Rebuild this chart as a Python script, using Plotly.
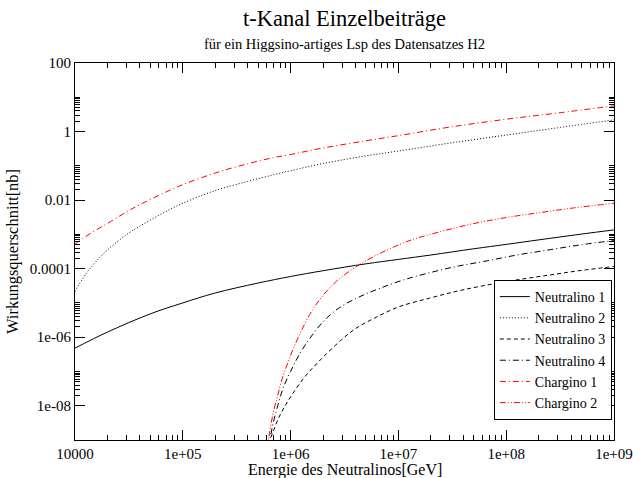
import plotly.graph_objects as go

# ---- data ----
e_n1 = [1e4, 2e4, 5e4, 1e5, 2e5, 5e5, 1e6, 2e6, 5e6, 1e7, 2e7, 5e7, 1e8, 2e8, 5e8, 1e9]
s_n1 = [4.8e-7, 1.41e-6, 4.8e-6, 1.0e-5, 1.95e-5, 3.8e-5, 5.9e-5, 8.7e-5, 1.38e-4,
        1.86e-4, 2.5e-4, 3.8e-4, 5.1e-4, 6.9e-4, 1.02e-3, 1.35e-3]

e_light = [1e4, 1.2e4, 1.4e4, 1.7e4, 2e4, 3e4, 4e4, 6e4, 8e4, 1e5, 2e5, 4e5, 7e5,
           1e6, 2e6, 5e6, 1e7, 3e7, 1e8, 3e8, 1e9]
s_n2 = [2.14e-5, 5.6e-5, 1.07e-4, 2.14e-4, 3.5e-4, 9.8e-4, 1.74e-3, 3.6e-3, 5.8e-3,
        8.1e-3, 0.019, 0.035, 0.055, 0.072, 0.117, 0.195, 0.27, 0.46, 0.79, 1.29, 2.19]
s_c1 = [5.2e-4, 7.8e-4, 1.07e-3, 1.55e-3, 2.09e-3, 4.5e-3, 7.4e-3, 0.0138, 0.0209,
        0.0282, 0.0617, 0.115, 0.174, 0.214, 0.331, 0.537, 0.759, 1.35, 2.29, 3.47, 5.62]

e_n3 = [6.1e5, 6.3e5, 6.9e5, 7.9e5, 9.1e5, 1.07e6, 1.32e6, 1.62e6, 2e6, 2.9e6, 4e6,
        5.9e6, 1e7, 1.95e7, 3.5e7, 6.2e7, 1.26e8, 2.6e8, 5e8, 1e9]
s_n3 = [3.0e-10, 7.9e-10, 1.78e-9, 5.0e-9, 1.12e-8, 2.5e-8, 6.3e-8, 1.32e-7, 2.6e-7,
        7.9e-7, 1.78e-6, 3.5e-6, 7.6e-6, 1.38e-5, 2.2e-5, 3.2e-5, 4.7e-5, 6.6e-5,
        8.9e-5, 1.15e-4]

e_n4 = [6.2e5, 6.5e5, 6.9e5, 7.6e5, 8.5e5, 1e6, 1.23e6, 1.62e6, 2.14e6, 2.9e6, 4.5e6,
        6.8e6, 1.12e7, 1.95e7, 3.5e7, 6.2e7, 1.26e8, 2.6e8, 5e8, 1e9]
s_n4 = [6.3e-10, 1.26e-9, 3.2e-9, 1.0e-8, 3.2e-8, 1.0e-7, 3.5e-7, 1.26e-6, 3.5e-6,
        7.6e-6, 1.58e-5, 2.7e-5, 4.7e-5, 7.6e-5, 1.17e-4, 1.62e-4, 2.5e-4, 3.6e-4,
        5.0e-4, 6.6e-4]

e_c2 = [6.0e5, 6.3e5, 6.9e5, 7.6e5, 8.3e5, 9.3e5, 1.07e6, 1.5e6, 2e6, 2.6e6, 3.8e6,
        5.9e6, 1.2e7, 2.45e7, 4.9e7, 1e8, 2.04e8, 4.2e8, 1e9]
s_c2 = [5.0e-10, 1.26e-9, 6.3e-9, 2.0e-8, 5.8e-8, 1.6e-7, 5.0e-7, 4.5e-6, 1.66e-5,
        4.0e-5, 1.0e-4, 2.24e-4, 6.2e-4, 1.2e-3, 2.04e-3, 3.1e-3, 4.3e-3, 5.9e-3, 8.1e-3]

x_tickvals = [1e4, 1e5, 1e6, 1e7, 1e8, 1e9]
x_ticktext = ["10000", "1e+05", "1e+06", "1e+07", "1e+08", "1e+09"]
y_tickvals = [1e-8, 1e-6, 1e-4, 1e-2, 1, 100]
y_ticktext = ["1e-08", "1e-06", "0.0001", "0.01", "1", "100"]

# minor ticks
x_minor = [k * 10.0 ** d for d in range(4, 9) for k in range(2, 10)]
y_minor = [k * v for v in [1e-8, 1e-6, 1e-4, 1e-2, 1] for k in range(2, 11)]

FONT = "Liberation Serif"

series = [
    ("Neutralino 1", e_n1, s_n1, "black", "solid"),
    ("Neutralino 2", e_light, s_n2, "black", "1px,2px"),
    ("Neutralino 3", e_n3, s_n3, "black", "4px,3px"),
    ("Neutralino 4", e_n4, s_n4, "black", "6px,3px,1px,3px"),
    ("Chargino 1", e_light, s_c1, "red", "6px,3px,1px,3px"),
    ("Chargino 2", e_c2, s_c2, "red", "6px,2px,1px,2px,1px,2px"),
]

fig = go.Figure()
for name, xs, ys, col, dash in series:
    fig.add_trace(go.Scatter(
        x=xs, y=ys, name=name, mode="lines",
        line=dict(color=col, width=1, dash=dash, shape="spline", smoothing=1.0),
    ))

axis_common = dict(
    showline=True, linecolor="black", linewidth=1, mirror="allticks",
    ticks="inside", ticklen=10, tickwidth=1, tickcolor="black",
    showgrid=False, zeroline=False, automargin=False,
    tickfont=dict(family=FONT, size=15, color="black"),
)

fig.update_xaxes(
    type="log", range=[4, 9],
    tickmode="array", tickvals=x_tickvals, ticktext=x_ticktext,
    minor=dict(tickmode="array", tickvals=x_minor, ticks="inside", ticklen=5,
               tickcolor="black", tickwidth=1, showgrid=False),
    **axis_common,
)
fig.update_yaxes(
    type="log", range=[-9, 2],
    tickmode="array", tickvals=y_tickvals, ticktext=y_ticktext,
    minor=dict(tickmode="array", tickvals=y_minor, ticks="inside", ticklen=5,
               tickcolor="black", tickwidth=1, showgrid=False),
    title=dict(text="Wirkungsquerschnitt[nb]", font=dict(family=FONT, size=16.5, color="black"),
               standoff=6),
    **axis_common,
)

fig.update_layout(
    width=633, height=478,
    margin=dict(l=75, r=19, t=63, b=38),
    paper_bgcolor="white", plot_bgcolor="white",
    font=dict(family=FONT, color="black"),
    showlegend=True,
    legend=dict(
        x=0.996, y=0.053, xanchor="right", yanchor="bottom",
        bgcolor="white", bordercolor="black", borderwidth=1,
        font=dict(family=FONT, size=14, color="black"),
        tracegroupgap=0, itemwidth=30,
    ),
    annotations=[
        dict(text="t-Kanal Einzelbeiträge", xref="paper", yref="paper",
             x=0.5, y=1, yshift=45, xanchor="center", yanchor="middle",
             showarrow=False, font=dict(family=FONT, size=22.5, color="black")),
        dict(text="für ein Higgsino-artiges Lsp des Datensatzes H2", xref="paper", yref="paper",
             x=0.5, y=1, yshift=19, xanchor="center", yanchor="middle",
             showarrow=False, font=dict(family=FONT, size=14.5, color="black")),
        dict(text="Energie des Neutralinos[GeV]", xref="paper", yref="paper",
             x=0.5, y=0, yshift=-30, xanchor="center", yanchor="middle",
             showarrow=False, font=dict(family=FONT, size=16, color="black")),
    ],
)

fig.write_html("out.html")
